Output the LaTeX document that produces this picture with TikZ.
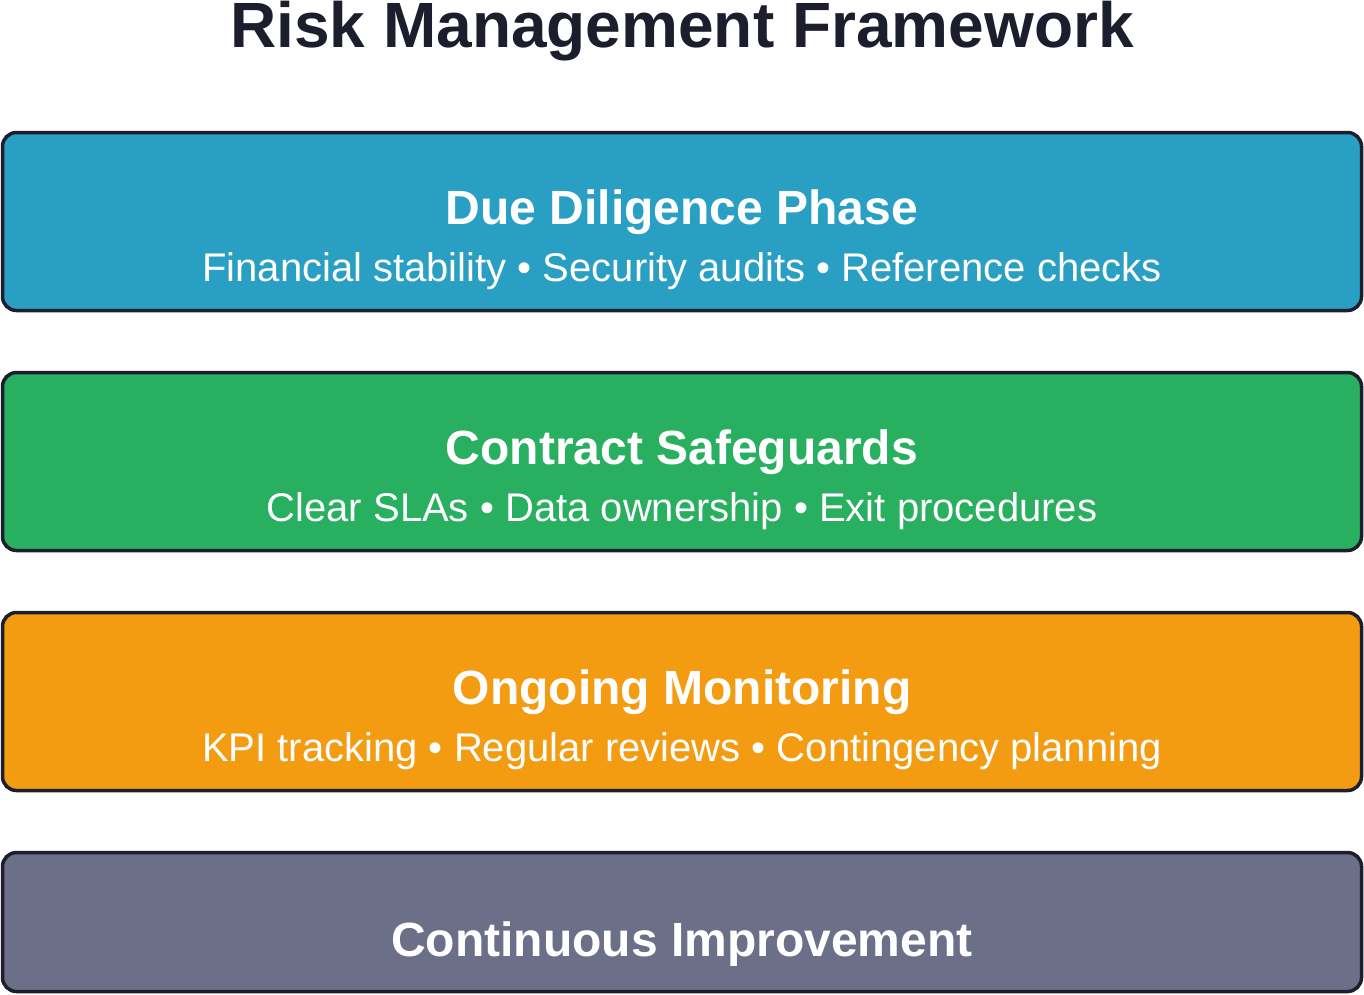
\documentclass[tikz,border=0pt]{standalone}
\usepackage{fontspec}
\setmainfont{Liberation Sans}
\usepackage{xcolor}
\definecolor{ink}{HTML}{1C1E2E}
\definecolor{ddblue}{HTML}{2A9FC4}
\definecolor{csgreen}{HTML}{28AF60}
\definecolor{omorange}{HTML}{F39C12}
\definecolor{cislate}{HTML}{6B6F88}
\tikzset{phase/.style={draw=ink,line width=3.5pt,rounded corners=14pt,
   minimum width=1359pt,minimum height=178pt,inner sep=0pt},
 headline/.style={anchor=base,text=white,font=\fontsize{48}{56}\selectfont\bfseries},
 subline/.style={anchor=base,text=white,font=\fontsize{40}{48}\selectfont},
 }
\usetikzlibrary{backgrounds}

\begin{document}
\begin{tikzpicture}[x=1pt,y=-1pt]
        \useasboundingbox (0,0) rectangle (1364,994);
        \node[anchor=base,inner sep=0pt,text=ink,font=\fontsize{64}{76}\selectfont\bfseries] (title) at (682, 47) {Risk Management Framework};

        \node[phase, fill=ddblue] (dd) at (682, 221.5) {};
        \node[headline] (ddhead) at (682, 224) {Due Diligence Phase};
        \node[subline] (ddsub) at (682, 281) {Financial stability • Security audits • Reference checks};

        \node[phase, fill=csgreen] (cs) at (682, 461.5) {};
        \node[headline] (cshead) at (682, 464) {Contract Safeguards};
        \node[subline] (cssub) at (682, 521) {Clear SLAs • Data ownership • Exit procedures};

        \node[phase, fill=omorange] (om) at (682, 701.5) {};
        \node[headline] (omhead) at (682, 704) {Ongoing Monitoring};
        \node[subline] (omsub) at (682, 761) {KPI tracking • Regular reviews • Contingency planning};

        \node[phase, fill=cislate, minimum height=139pt] (ci) at (682, 922) {};
        \node[headline] (cihead) at (682, 956) {Continuous Improvement};
    \end{tikzpicture}
\end{document}
